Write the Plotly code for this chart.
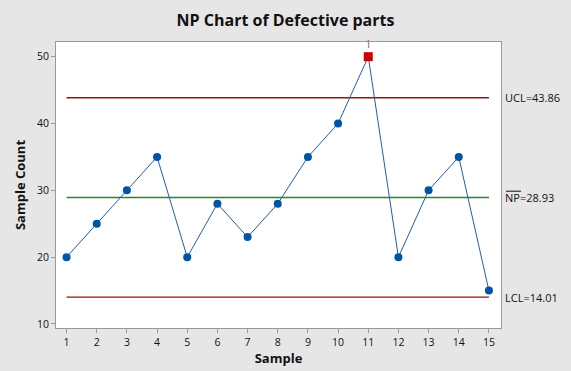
import plotly.graph_objects as go

samples = list(range(1, 16))
counts = [20, 25, 30, 35, 20, 28, 23, 28, 35, 40, 50, 20, 30, 35, 15]
ucl = 43.86
center = 28.93
lcl = 14.01
y_ticks = [10, 20, 30, 40, 50]

fig = go.Figure()

# control lines
for val, col in [(ucl, "#9B1111"), (center, "#22882A"), (lcl, "#9B1111")]:
    fig.add_trace(go.Scatter(x=[samples[0], samples[-1]], y=[val, val], mode="lines",
                             line=dict(color=col, width=1.3), hoverinfo="skip", showlegend=False))

fig.add_trace(go.Scatter(x=samples, y=counts, mode="lines", line=dict(color="#1F5FAF", width=1),
                         showlegend=False))
normal_x = [s for s, c in zip(samples, counts) if lcl <= c <= ucl]
normal_y = [c for c in counts if lcl <= c <= ucl]
out_x = [s for s, c in zip(samples, counts) if not (lcl <= c <= ucl)]
out_y = [c for c in counts if not (lcl <= c <= ucl)]
fig.add_trace(go.Scatter(x=normal_x, y=normal_y, mode="markers",
                         marker=dict(color="#0054A6", size=8, symbol="circle"), showlegend=False))
fig.add_trace(go.Scatter(x=out_x, y=out_y, mode="markers+text", text=["1"] * len(out_x),
                         textposition="top center", textfont=dict(size=10, color="#A05000", family="Open Sans"),
                         marker=dict(color="#CC0000", size=9, symbol="square"), showlegend=False, cliponaxis=False))

for val, label in [(ucl, "UCL=%.2f" % ucl), (center, "NP=%.2f" % center), (lcl, "LCL=%.2f" % lcl)]:
    fig.add_annotation(x=1, xref="paper", xanchor="left", xshift=2, y=val, yref="y", text=label,
                       showarrow=False, font=dict(size=11, color="#111", family="Open Sans"))

# overline over "NP"
fig.add_shape(type="line", xref="paper", yref="y", x0=1 + 5 / 445, x1=1 + 20 / 445,
              y0=center + 6.3 / 6.675, y1=center + 6.3 / 6.675, line=dict(color="#111", width=1))

fig.update_layout(
    width=571, height=371,
    paper_bgcolor="#E6E6E6", plot_bgcolor="white",
    margin=dict(l=56, r=70, t=42, b=43),
    title=dict(text="<b>NP Chart of Defective parts</b>", x=0.5, xanchor="center", y=0.945, yanchor="middle",
               font=dict(family="Open Sans", size=16, color="#111")),
    font=dict(family="Open Sans", color="#111"),
)
fig.update_xaxes(range=[0.65, 15.4], tickvals=samples, ticks="outside", ticklen=4, tickcolor="#999",
                 showgrid=False, zeroline=False, showline=True, linecolor="#999", mirror=True, automargin=False,
                 tickfont=dict(size=10.5), title=dict(text="<b>Sample</b>", font=dict(size=13), standoff=4))
fig.update_yaxes(range=[9.4, 52.2], tickvals=y_ticks, ticks="outside", ticklen=4, tickcolor="#999",
                 showgrid=False, zeroline=False, showline=True, linecolor="#999", mirror=True, automargin=False,
                 tickfont=dict(size=10.5), title=dict(text="<b>Sample Count</b>", font=dict(size=13), standoff=8))

fig.write_html("out.html", config={"displayModeBar": False},
               post_script="document.body.style.margin='0';document.body.style.overflow='hidden';")
